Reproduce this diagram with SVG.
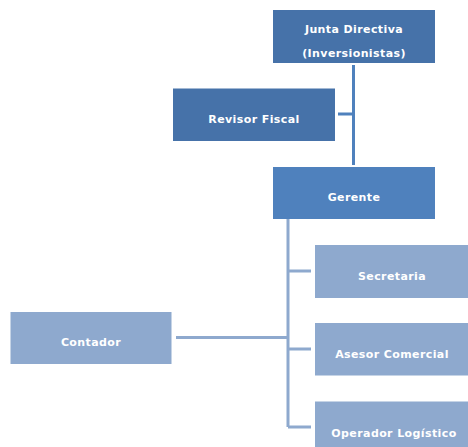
<svg xmlns="http://www.w3.org/2000/svg" width="468" height="447" viewBox="0 0 468 447">
<style>
.dark{fill:#4672a9}
.mid{fill:#4f81bd}
.light{fill:#8ea9ce}
text{font-family:"DejaVu Sans",Verdana,sans-serif;font-weight:bold;font-size:11px;letter-spacing:0.4px;fill:#ffffff;text-anchor:middle}
.c1{stroke:#4f81bd;stroke-width:3;fill:none}
.c2{stroke:#8ea9ce;stroke-width:3;fill:none}
</style>
<rect width="468" height="447" fill="#ffffff"/>
<g id="connectors">
<path class="c1" d="M353.5 65V165M338 114H353.5"/>
<path class="c2" d="M288 219V427M288 271H311M288 349H311M288 427H311M176 337.5H288"/>
</g>
<g id="junta"><rect class="dark" x="273" y="10" width="162" height="53"/><text x="354" y="33">Junta Directiva</text><text x="354" y="57">(Inversionistas)</text></g>
<g id="revisor"><rect class="dark" x="173" y="88.5" width="162" height="52.5"/><text x="254" y="123">Revisor Fiscal</text></g>
<g id="gerente"><rect class="mid" x="273" y="167" width="162" height="52"/><text x="354" y="201">Gerente</text></g>
<g id="secretaria"><rect class="light" x="315" y="245" width="153" height="53"/><text x="392" y="279.5">Secretaria</text></g>
<g id="asesor"><rect class="light" x="315" y="323" width="153" height="52.5"/><text x="392" y="357.5">Asesor Comercial</text></g>
<g id="operador"><rect class="light" x="315" y="401.5" width="153" height="46"/><text x="394" y="437">Operador Logístico</text></g>
<g id="contador"><rect class="light" x="10.5" y="312" width="161" height="52"/><text x="91" y="346">Contador</text></g>
</svg>
